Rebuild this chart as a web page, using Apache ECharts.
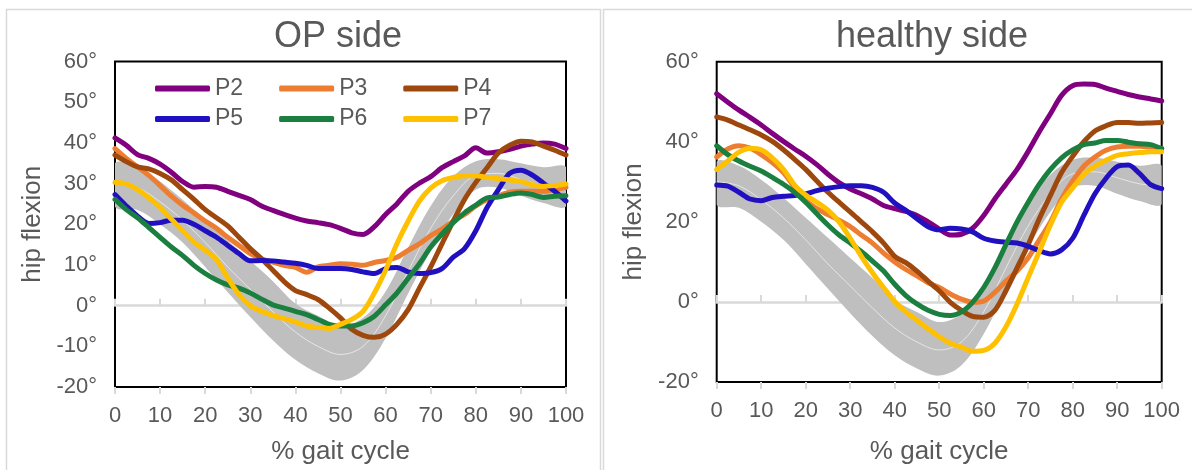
<!DOCTYPE html>
<html><head><meta charset="utf-8">
<script src="https://cdn.jsdelivr.net/npm/echarts@6/dist/echarts.min.js"></script>
<style>html,body{margin:0;padding:0;background:#fff}#c{width:1192px;height:470px}</style>
</head><body><div id="c"></div>
<script>
// % gait cycle sample points for the participant curves
const gaitPct = [0,2.5,5,7.5,10,12.5,15,17.5,20,22.5,25,27.5,30,32.5,35,37.5,40,42.5,45,47.5,
                 50,52.5,55,57.5,60,62.5,65,67.5,70,72.5,75,77.5,80,82.5,85,87.5,90,92.5,95,97.5,100];
// % gait cycle sample points for the normative band
const bandPct = [0,5,10,15,20,25,30,35,40,45,50,55,60,65,70,75,80,85,90,95,100];

// normative band (same in both panels)
const bandUpper = [35,34,30.5,26,21,16,11,6,0.5,-2.5,-5,-3,3.5,14.3,24.5,31.8,35.5,36,35,34,34];
const bandLower = [24.3,23.5,20,15.5,9.5,3.3,-2.8,-8.5,-13.3,-16.6,-18.4,-15.8,-8,3,13.5,22.5,28.5,29,27,25.2,24.4];
const bandMean  = [30,29,25.5,21,15.5,9.5,4,-1.5,-6.5,-10,-12,-10,-2.5,8.5,19,27,32,32.5,31,29.5,29];

// OP side
const opP2 = [41.2,39.4,37.1,36.2,34.8,32.8,30.5,29.1,29.3,29.1,28.1,27.1,26.1,24.5,23.4,22.4,21.5,20.8,20.4,19.9,
              19.0,17.9,17.5,19.4,22.4,25.0,28.1,30.1,31.7,33.9,35.4,36.8,38.8,37.5,37.8,38.4,39.2,39.7,40.0,39.7,38.6];
const opP3 = [38.6,36.2,34.1,32.0,29.5,26.9,24.7,22.8,20.8,19.0,16.8,14.8,12.8,11.5,10.7,9.9,9.4,8.2,9.5,9.9,
              10.3,10.2,9.9,10.6,11.1,11.9,13.6,15.2,17.2,18.8,20.8,22.4,24.5,26.1,27.0,27.9,28.1,28.1,28.1,28.5,29.1];
const opP4 = [37.0,35.4,34.1,33.6,32.5,30.9,28.5,26.1,23.6,21.6,19.6,16.8,14.0,11.5,8.7,5.9,3.7,2.7,1.5,-0.6,
              -3.0,-5.8,-7.3,-7.8,-7.0,-4.6,-1.0,4.3,9.5,15.2,20.8,26.1,30.3,33.9,37.5,39.4,40.4,40.2,39.2,38.2,37.0];
const opP5 = [27.3,24.5,22.0,20.2,20.4,21.0,21.0,20.0,18.4,16.8,14.8,12.8,11.0,11.1,11.0,10.7,10.4,9.9,9.1,9.1,
              9.1,8.9,8.3,7.9,9.1,9.4,8.3,7.9,8.1,9.1,11.9,14.0,18.4,24.1,28.5,32.5,33.3,32.1,30.1,28.1,25.7];
const opP6 = [26.1,23.6,21.6,19.2,16.8,14.4,12.3,9.9,7.9,6.3,5.1,4.3,3.1,1.6,0.2,-0.6,-1.4,-2.2,-3.4,-4.6,
              -5.0,-5.0,-4.2,-2.6,0.2,3.1,6.7,10.3,14.4,17.6,20.4,22.8,24.7,26.5,26.7,27.3,27.7,27.3,26.6,26.9,27.0];
const opP7 = [30.3,29.9,28.5,26.5,24.1,21.2,18.4,15.6,13.6,11.3,6.8,2.7,0.0,-1.4,-2.4,-3.2,-4.0,-5.0,-5.4,-5.6,
              -4.6,-3.4,-1.4,3.1,8.7,15.2,20.8,25.7,28.9,30.7,31.5,31.9,31.9,31.5,31.2,30.9,30.5,29.7,29.3,29.5,29.9];

// healthy side
const hsP2 = [52.0,49.9,47.9,46.1,44.2,42.1,40.1,38.2,36.4,34.3,31.9,29.8,28.2,27.0,25.7,24.1,23.3,22.6,21.6,20.0,
              18.2,16.7,16.9,18.4,21.6,25.7,29.4,33.1,37.6,42.5,47.0,51.6,54.0,54.4,54.3,53.4,52.6,51.8,51.2,50.7,50.2];
const hsP3 = [36.2,38.2,39.0,38.4,36.8,34.8,32.3,28.6,25.3,23.3,21.8,20.4,18.8,16.7,14.7,12.2,10.0,8.1,6.5,4.8,
              3.6,2.0,0.7,-0.1,0.2,2.4,5.2,7.7,11.0,15.5,20.0,25.7,30.2,33.9,36.2,37.9,38.7,38.9,38.9,38.7,38.3];
const hsP4 = [46.2,45.4,44.2,43.0,41.7,40.1,38.0,35.6,33.1,30.2,27.4,24.9,22.5,20.0,17.5,14.7,11.4,9.8,7.7,5.2,
              2.8,-0.1,-2.1,-3.6,-3.8,-2.1,2.8,8.5,14.3,20.8,26.6,32.3,36.4,40.0,42.7,44.0,44.8,44.8,44.6,44.7,44.8];
const hsP5 = [29.2,28.9,27.4,25.7,25.3,26.1,26.4,26.6,27.0,27.8,28.4,28.8,29.0,29.0,28.6,27.4,24.7,22.9,20.8,18.8,
              18.0,18.4,18.2,17.5,15.9,15.2,14.9,14.7,13.9,12.8,12.0,13.0,15.9,21.6,27.0,30.9,33.8,34.2,32.1,29.3,28.3];
const hsP6 = [39.0,36.8,35.2,33.9,32.7,31.1,29.4,27.4,24.9,22.0,19.2,16.7,14.7,12.6,10.2,7.7,4.4,1.6,-0.5,-2.1,
              -3.1,-3.4,-2.5,-0.1,3.6,8.5,14.3,20.0,24.9,29.4,33.1,36.0,38.0,39.3,39.7,40.3,40.3,39.9,39.5,39.3,38.3];
const hsP7 = [33.1,35.2,37.4,38.4,38.0,36.0,33.1,29.2,26.7,24.9,22.9,20.0,15.9,11.4,7.3,3.6,0.1,-2.5,-4.6,-6.7,
              -8.7,-10.3,-11.3,-12.3,-12.1,-10.3,-6.2,-0.5,6.1,12.6,19.2,24.9,28.5,31.8,33.9,35.4,36.6,37.0,37.3,37.5,37.5];

const names = ['P2','P3','P4','P5','P6','P7'];
const colors = ['#800080','#ED7D31','#9E480E','#2010C0','#1B7F40','#FFC000'];
const opData = [opP2,opP3,opP4,opP5,opP6,opP7];
const hsData = [hsP2,hsP3,hsP4,hsP5,hsP6,hsP7];

const FONT = 'Liberation Sans, Arial, sans-serif';
const TXT = '#595959';
const pairs = (xs,arr) => xs.map((x,i)=>[x,arr[i]]);

function xAxes(g){
  const base = {type:'value',gridIndex:g,min:0,max:100,interval:10,splitLine:{show:false}};
  return [
    Object.assign({},base,{position:'bottom',axisLine:{show:false,onZero:false},axisTick:{show:false},
      axisLabel:{fontSize:22,color:TXT,fontFamily:FONT,margin:18},
      name:'% gait cycle',nameLocation:'middle',nameGap:g===0?52:57,
      nameTextStyle:{fontSize:26,color:TXT,fontFamily:FONT}}),
    Object.assign({},base,{position:'bottom',axisLine:{show:true,onZero:true,lineStyle:{color:'#d9d9d9',width:2.5}},
      axisTick:{show:true,inside:true,length:7,lineStyle:{color:'#d9d9d9',width:2}},axisLabel:{show:false}}),
    Object.assign({},base,{position:'bottom',axisLine:{show:false,onZero:true},
      axisTick:{show:true,inside:false,length:7,lineStyle:{color:'#d9d9d9',width:2}},axisLabel:{show:false}})
  ];
}
function yAxis(g,interval,gap){
  return {type:'value',gridIndex:g,min:-20,max:60,interval:interval,splitLine:{show:false},
    axisLine:{show:false},axisTick:{show:false},
    axisLabel:{formatter:'{value}°',fontSize:22,color:TXT,fontFamily:FONT,margin:18},
    name:'hip flexion',nameLocation:'middle',nameGap:gap,nameRotate:90,
    nameTextStyle:{fontSize:26,color:TXT,fontFamily:FONT}};
}
function bandSeries(xi,yi){
  return [
    {type:'custom',coordinateSystem:'cartesian2d',xAxisIndex:xi,yAxisIndex:yi,data:[[0,0]],z:1,silent:true,
     renderItem:function(params,api){
       const up = bandPct.map((x,i)=>api.coord([x,bandUpper[i]]));
       const lo = bandPct.map((x,i)=>api.coord([x,bandLower[i]])).reverse();
       const cs = params.coordSys;
       return {type:'polygon',shape:{points:up.concat(lo),smooth:0.35,
           smoothConstraint:[[cs.x,cs.y],[cs.x+cs.width,cs.y+cs.height]]},
          style:{fill:'#bfbfbf',stroke:null}};
     }},
    {type:'line',xAxisIndex:xi,yAxisIndex:yi,data:pairs(bandPct,bandMean),smooth:0.35,
     showSymbol:false,lineStyle:{color:'rgba(255,255,255,0.75)',width:0.8},z:1,silent:true}
  ];
}
function lineSeries(dataSets,xi,yi){
  return dataSets.map((d,i)=>({type:'line',name:names[i],xAxisIndex:xi,yAxisIndex:yi,data:pairs(gaitPct,d),
    smooth:0.3,showSymbol:false,color:colors[i],
    lineStyle:{color:colors[i],width:5,cap:'round',join:'round'},z:2}));
}

const chart = echarts.init(document.getElementById('c'),null,{renderer:'canvas'});
chart.setOption({
  animation:false,
  backgroundColor:'#fff',
  grid:[
    {left:115,top:61.5,width:451,height:330.5,show:true,borderColor:'#000',borderWidth:2,backgroundColor:'#fff'},
    {left:716.7,top:61.7,width:445,height:325.3,show:true,borderColor:'#000',borderWidth:2,backgroundColor:'#fff'}
  ],
  xAxis:[...xAxes(0),...xAxes(1)],
  yAxis:[yAxis(0,10,69),yAxis(1,20,70)],
  legend:[
    {data:['P2','P3','P4'],left:150,top:72,itemWidth:55,itemHeight:6,itemGap:36,icon:'roundRect',
     textStyle:{fontSize:23,color:TXT,fontFamily:FONT},selectedMode:false},
    {data:['P5','P6','P7'],left:150,top:102.5,itemWidth:55,itemHeight:6,itemGap:36,icon:'roundRect',
     textStyle:{fontSize:23,color:TXT,fontFamily:FONT},selectedMode:false}
  ],
  graphic:[
    {type:'rect',shape:{x:6.5,y:9.5,width:594,height:480},style:{fill:'none',stroke:'#d9d9d9',lineWidth:1.5},z:-1},
    {type:'rect',shape:{x:603.5,y:9.5,width:600,height:480},style:{fill:'none',stroke:'#d9d9d9',lineWidth:1.5},z:-1},
    {type:'text',x:338,y:37,style:{text:'OP side',fontSize:36,fill:TXT,fontFamily:FONT,align:'center',verticalAlign:'middle'}},
    {type:'text',x:932,y:37,style:{text:'healthy side',fontSize:36,fill:TXT,fontFamily:FONT,align:'center',verticalAlign:'middle'}}
  ],
  series:[
    ...bandSeries(0,0),
    ...lineSeries(opData,0,0),
    ...bandSeries(3,1),
    ...lineSeries(hsData,3,1)
  ]
});
</script>
</body></html>
